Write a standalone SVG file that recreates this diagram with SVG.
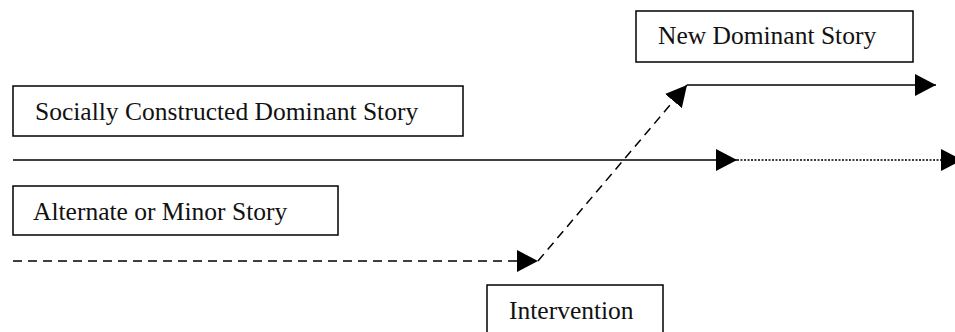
<svg xmlns="http://www.w3.org/2000/svg" width="955" height="332" viewBox="0 0 955 332">
<style>
.box{fill:#fff;stroke:#000;stroke-width:1.5}
.lbl{font-family:"Liberation Serif","Times New Roman",serif;font-size:25.5px;fill:#111}
.ln{fill:none;stroke:#000;stroke-width:1.5}
.dash{stroke-dasharray:9 6}
.dot{stroke-dasharray:2 1.5}
</style>
<defs>
<marker id="ah" markerUnits="userSpaceOnUse" markerWidth="22" markerHeight="22" refX="21" refY="11" orient="auto" viewBox="0 0 22 22">
<path d="M0,0 L21,11 L0,22 z" fill="#000"/>
</marker>
</defs>
<g id="node-new-dominant">
<rect class="box" x="636" y="11" width="277" height="51"/>
<text class="lbl" x="658" y="44">New Dominant Story</text>
</g>
<g id="node-socially">
<rect class="box" x="13" y="86" width="450" height="50"/>
<text class="lbl" x="35" y="120">Socially Constructed Dominant Story</text>
</g>
<g id="node-alternate">
<rect class="box" x="13" y="186" width="325" height="49"/>
<text class="lbl" x="33" y="220">Alternate or Minor Story</text>
</g>
<g id="node-intervention">
<rect class="box" x="487" y="285" width="176" height="60"/>
<text class="lbl" x="509" y="319">Intervention</text>
</g>
<g id="connectors">
<line class="ln" x1="13" y1="160" x2="737" y2="160" marker-end="url(#ah)"/>
<line class="ln dot" x1="737" y1="160" x2="962" y2="160" marker-end="url(#ah)"/>
<line class="ln dash" x1="13" y1="261" x2="538" y2="261" marker-end="url(#ah)"/>
<line class="ln dash" x1="538" y1="261" x2="687" y2="85" marker-end="url(#ah)"/>
<line class="ln" x1="687" y1="85" x2="936" y2="85" marker-end="url(#ah)"/>
</g>
</svg>
